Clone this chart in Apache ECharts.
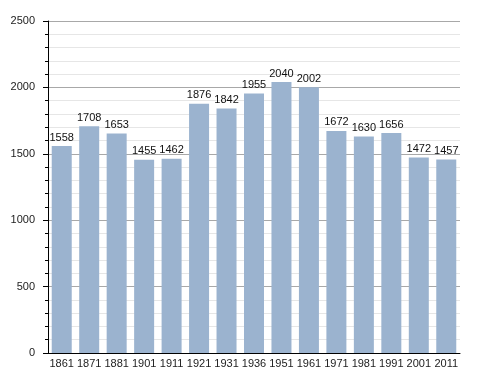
<!DOCTYPE html>
<html>
<head>
<meta charset="utf-8">
<script src="https://cdn.jsdelivr.net/npm/echarts@6/dist/echarts.min.js"></script>
<style>html,body{margin:0;padding:0;background:#fff}#c{width:488px;height:373px}</style>
</head>
<body>
<div id="c"></div>
<script>
var categories = ['1861','1871','1881','1901','1911','1921','1931','1936','1951','1961','1971','1981','1991','2001','2011'];
var population = [1558,1708,1653,1455,1462,1876,1842,1955,2040,2002,1672,1630,1656,1472,1457];
var yTicks = [0,500,1000,1500,2000,2500];

var chart = echarts.init(document.getElementById('c'), null, {renderer:'canvas'});
chart.setOption({
  animation: false,
  grid: {left: 48, right: 28, top: 21, bottom: 20},
  textStyle: {fontFamily: 'Liberation Sans'},
  xAxis: {
    type: 'category',
    data: categories,
    axisLine: {lineStyle: {color: '#000', width: 1}},
    axisTick: {show: false},
    axisLabel: {color: '#222', fontSize: 11, margin: 5, fontFamily: 'Liberation Sans', interval: 0}
  },
  yAxis: {
    type: 'value',
    min: yTicks[0],
    max: yTicks[yTicks.length-1],
    interval: 500,
    axisLine: {show: true, lineStyle: {color: '#000', width: 1}},
    axisTick: {show: true, length: 5, lineStyle: {color: '#000'}},
    minorTick: {show: true, splitNumber: 5, length: 3, lineStyle: {color: '#000'}},
    axisLabel: {color: '#222', fontSize: 11, margin: 13, fontFamily: 'Liberation Sans',
      formatter: function (v) { return String(v); }},
    splitLine: {show: true, lineStyle: {color: '#a8a8a8', width: 1}},
    minorSplitLine: {show: true, lineStyle: {color: '#e6e6e6', width: 1}}
  },
  series: [{
    type: 'bar',
    data: population,
    barWidth: 20,
    itemStyle: {color: '#9bb3cf'},
    label: {show: true, position: 'top', color: '#111', fontSize: 11, distance: 3, fontFamily: 'Liberation Sans'}
  }]
});
</script>
</body>
</html>
